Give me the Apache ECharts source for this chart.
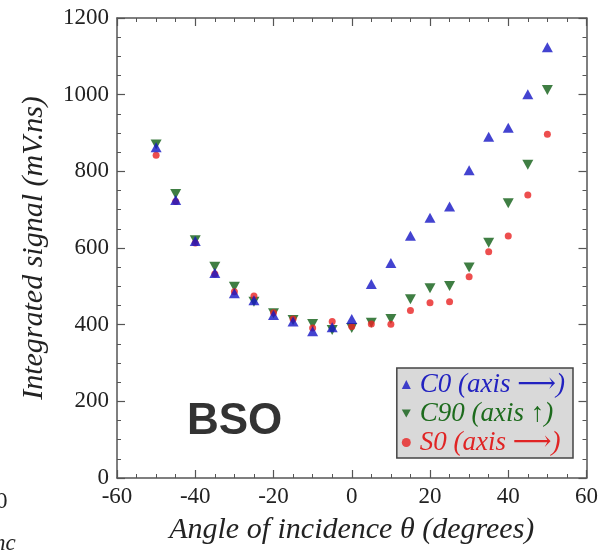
<!DOCTYPE html>
<html><head><meta charset="utf-8">
<script src="https://cdn.jsdelivr.net/npm/echarts@6/dist/echarts.min.js"></script>
<style>html,body{margin:0;padding:0;background:#fff}#c{width:601px;height:553px}</style>
</head><body><div id="c"></div>
<script>
const angles = [-50,-45,-40,-35,-30,-25,-20,-15,-10,-5,0,5,10,15,20,25,30,35,40,45,50];
const c0  = [863,725,618,535,482,464,425,408,383,393,415,506,561,632,679,708,803,890,914,1001,1124];
const c90 = [870,741,620,551,499,460,430,412,402,386,391,405,415,466,495,501,549,614,717,817,1012];
const s0  = [842,721,613,532,486,475,431,415,391,408,395,402,401,437,457,460,525,590,631,738,897];
const seriesNames = ['C0 (axis \u27f6)','C90 (axis \u2191)','S0 (axis \u27f6)'];
const yTicks = [0,200,400,600,800,1000,1200];
const xTicks = [-60,-40,-20,0,20,40,60];

const pair = v => angles.map((a,i)=>[a,v[i]]);
const serif = 'Liberation Serif, DejaVu Serif, Times New Roman, serif';
const axisCol = '#555';
const downTri = 'path://M0,0 L10,0 L5,8.66 Z';
const chart = echarts.init(document.getElementById('c'));
const common = {
  axisLine:{show:true,onZero:false,lineStyle:{color:axisCol,width:1.5}},
  axisTick:{show:true,inside:true,length:8,lineStyle:{color:axisCol,width:1.2}},
  minorTick:{show:true,splitNumber:4,length:4,lineStyle:{color:axisCol,width:1}},
  splitLine:{show:false}
};
chart.setOption({
  animation:false,
  backgroundColor:'#fff',
  grid:{left:117,right:13,top:18,bottom:75},
  xAxis:[
    Object.assign({type:'value',min:-60,max:60,interval:20,position:'bottom',
      name:'Angle of incidence \u03b8 (degrees)',nameLocation:'middle',nameGap:37,
      nameTextStyle:{fontFamily:serif,fontStyle:'italic',fontSize:30,color:'#222'},
      axisLabel:{fontFamily:serif,fontSize:23,color:'#222',margin:7,
        formatter:v=>xTicks.includes(v)?String(v):''}},common),
    Object.assign({type:'value',min:-60,max:60,interval:20,position:'top',axisLabel:{show:false}},common)
  ],
  yAxis:[
    Object.assign({type:'value',min:0,max:1200,interval:200,position:'left',
      name:'Integrated signal (mV.ns)',nameLocation:'middle',nameGap:68,
      nameTextStyle:{fontFamily:serif,fontStyle:'italic',fontSize:30,color:'#222'},
      axisLabel:{fontFamily:serif,fontSize:23,color:'#222',margin:8,
        formatter:v=>yTicks.includes(v)?String(v):''}},common),
    Object.assign({type:'value',min:0,max:1200,interval:200,position:'right',axisLabel:{show:false}},common)
  ],
  legend:{
    orient:'vertical',right:28,bottom:95,
    backgroundColor:'#d9d9d9',borderColor:'#444',borderWidth:1.5,
    padding:[3,8,2,5],itemGap:2,itemWidth:9,itemHeight:9,
    textStyle:{fontFamily:serif,fontStyle:'italic',fontSize:27,padding:[0,0,0,4]},
    data:[
      {name:seriesNames[0],icon:'triangle',textStyle:{color:'#2222c0'}},
      {name:seriesNames[1],icon:downTri,textStyle:{color:'#1d6b1d'}},
      {name:seriesNames[2],icon:'circle',textStyle:{color:'#e02424'}}
    ]
  },
  graphic:[
    {type:'text',left:187,top:400,style:{text:'BSO',font:'bold 44px Liberation Sans, Arial, sans-serif',fill:'#333'}},
    {type:'text',left:-4,top:490,style:{text:'0',font:'23px Liberation Serif',fill:'#222'}},
    {type:'text',left:-6,top:532,style:{text:'nc',font:'italic 23px Liberation Serif',fill:'#222'}}
  ],
  series:[
    {name:seriesNames[2],type:'scatter',data:pair(s0),symbol:'circle',symbolSize:7,itemStyle:{color:'#e82222'},z:3},
    {name:seriesNames[1],type:'scatter',data:pair(c90),symbol:downTri,symbolSize:[11,10],itemStyle:{color:'#0f5e14'},z:2},
    {name:seriesNames[0],type:'scatter',data:pair(c0),symbol:'triangle',symbolSize:[11,10],itemStyle:{color:'#1414c4'},z:4}
  ]
});
</script></body></html>
